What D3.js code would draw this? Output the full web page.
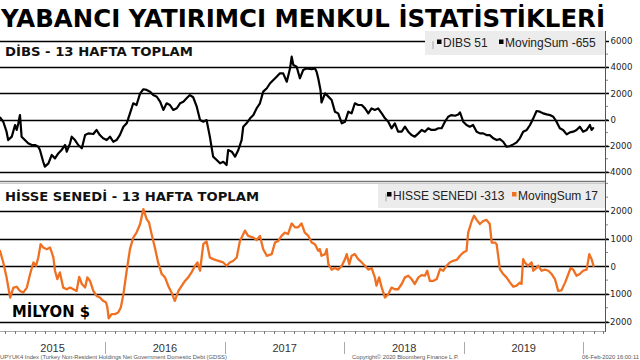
<!DOCTYPE html>
<html><head><meta charset="utf-8">
<script src="https://cdn.jsdelivr.net/npm/d3@7"></script>
<style>
html,body{margin:0;padding:0;background:#fff;}
svg{display:block;}
</style></head>
<body>
<svg id="chart" width="640" height="360"></svg>
<script>
// ---------- DATA ----------
const titleText = "YABANCI YATIRIMCI MENKUL İSTATİSTİKLERİ";
const topTitle = "DİBS - 13 HAFTA TOPLAM";
const botTitle = "HİSSE SENEDİ - 13 HAFTA TOPLAM";
const unitLabel = "MİLYON $";
const topLegend = ["DIBS 51", "MovingSum -655"];
const botLegend = ["HISSE SENEDI -313", "MovingSum 17"];
const topTicks = [-4000, -2000, 0, 2000, 4000, 6000];
const botTicks = [-2000, -1000, 0, 1000, 2000];
const years = ["2015", "2016", "2017", "2018", "2019"];
const footerLeft = "UPYUK4 Index (Turkey Non-Resident Holdings Net Government Domestic Debt (GDSS)";
const footerMid = "Copyright© 2020 Bloomberg Finance L.P.";
const footerRight = "06-Feb-2020 16:00:11";

// DIBS 13-week moving sum (black)
const dibsSeries = [
["2015-02-14",150],["2015-02-24",-170],["2015-03-06",-930],["2015-03-11",-1570],["2015-03-22",-1310],
["2015-04-01",-420],["2015-04-06",-800],["2015-04-11",-290],["2015-04-16",340],["2015-04-21",-1310],
["2015-05-01",-1570],["2015-05-11",-1820],["2015-05-22",-1950],["2015-06-01",-1950],["2015-06-11",-2080],
["2015-06-16",-2330],["2015-06-26",-3230],["2015-07-01",-3600],["2015-07-12",-3350],["2015-07-22",-2710],
["2015-08-01",-2970],["2015-08-11",-2590],["2015-08-21",-2330],["2015-09-01",-1950],["2015-09-06",-2460],
["2015-09-16",-1820],["2015-09-21",-1310],["2015-10-01",-1570],["2015-10-11",-1950],["2015-10-22",-2200],
["2015-11-01",-1190],["2015-11-11",-1060],["2015-11-26",-1110],["2015-12-06",-800],["2015-12-16",-1190],
["2015-12-26",-1440],["2016-01-06",-1570],["2016-01-16",-1310],["2016-01-26",-1700],["2016-02-05",-1570],
["2016-02-15",-1190],["2016-02-26",-550],["2016-03-07",-290],["2016-03-17",470],["2016-03-27",1240],
["2016-04-06",1110],["2016-04-17",2000],["2016-04-27",2310],["2016-05-07",2260],["2016-05-17",2130],
["2016-05-27",1870],["2016-06-07",1740],["2016-06-17",1360],["2016-06-27",730],["2016-07-07",1240],
["2016-07-17",1110],["2016-07-27",730],["2016-08-07",860],["2016-08-17",1240],["2016-08-27",1360],
["2016-09-06",1620],["2016-09-16",1870],["2016-09-26",1700],["2016-10-07",980],["2016-10-17",-40],
["2016-10-27",-170],["2016-11-06",-40],["2016-11-16",-1310],["2016-11-26",-2840],["2016-12-07",-3100],
["2016-12-17",-3350],["2016-12-27",-3230],["2017-01-06",-3480],["2017-01-11",-2330],["2017-01-22",-2460],
["2017-02-01",-2840],["2017-02-11",-2330],["2017-02-21",-1570],["2017-02-26",-550],["2017-03-08",-290],
["2017-03-19",90],["2017-03-29",340],["2017-04-08",860],["2017-04-18",1240],["2017-04-28",2130],
["2017-05-09",2390],["2017-05-19",2770],["2017-05-29",3020],["2017-06-08",3270],["2017-06-18",3530],
["2017-06-28",3530],["2017-07-09",2890],["2017-07-19",3910],["2017-07-24",4800],["2017-07-29",4170],
["2017-08-08",4040],["2017-08-18",3150],["2017-08-28",3780],["2017-09-08",3910],["2017-09-23",3840],
["2017-10-03",3910],["2017-10-08",3650],["2017-10-13",3150],["2017-10-20",2250],["2017-10-23",1300],
["2017-11-03",2000],["2017-11-13",1750],["2017-11-23",1490],["2017-12-03",600],["2017-12-13",470],
["2017-12-24",-290],["2018-01-03",-170],["2018-01-13",600],["2018-01-23",470],["2018-02-02",1240],
["2018-02-12",1110],["2018-02-23",1110],["2018-03-05",850],["2018-03-15",470],["2018-03-25",850],
["2018-04-04",730],["2018-04-14",850],["2018-04-25",470],["2018-05-05",90],["2018-05-15",-170],
["2018-05-25",-670],["2018-06-04",-290],["2018-06-14",-930],["2018-06-25",-930],["2018-07-05",-550],
["2018-07-15",-930],["2018-07-25",-1190],["2018-08-04",-1310],["2018-08-15",-1060],["2018-08-25",-800],
["2018-09-04",-930],["2018-09-14",-670],["2018-09-24",-800],["2018-10-04",-800],["2018-10-15",-670],
["2018-10-25",-670],["2018-11-04",-170],["2018-11-14",210],["2018-11-24",340],["2018-12-05",290],
["2018-12-15",390],["2018-12-20",550],["2018-12-30",-170],["2019-01-09",-420],["2019-01-19",-550],
["2019-01-29",-420],["2019-02-09",-930],["2019-02-19",-1060],["2019-03-01",-1060],["2019-03-11",-1190],
["2019-03-21",-1190],["2019-04-01",-1440],["2019-04-11",-1570],["2019-04-21",-1500],["2019-05-01",-1700],
["2019-05-11",-2080],["2019-05-22",-2030],["2019-06-01",-1900],["2019-06-11",-1750],["2019-06-21",-1440],
["2019-07-01",-930],["2019-07-12",-800],["2019-07-22",-420],["2019-08-01",90],["2019-08-11",650],
["2019-08-21",600],["2019-08-31",470],["2019-09-11",390],["2019-09-21",340],["2019-10-01",210],
["2019-10-11",-170],["2019-10-21",-670],["2019-10-31",-800],["2019-11-11",-1140],["2019-11-21",-980],
["2019-12-01",-930],["2019-12-11",-800],["2019-12-21",-550],["2019-12-31",-930],["2020-01-11",-800],
["2020-01-21",-420],["2020-01-26",-800],["2020-01-31",-655]
];

// HISSE SENEDI 13-week moving sum (orange)
const hisseSeries = [
["2015-02-14",560],["2015-02-24",140],["2015-03-06",-400],["2015-03-17",-1130],["2015-03-27",-770],
["2015-04-06",-740],["2015-04-16",-890],["2015-04-26",-950],["2015-05-07",-770],["2015-05-17",-280],
["2015-05-27",140],["2015-06-04",20],["2015-06-11",320],["2015-06-18",800],["2015-06-26",680],
["2015-07-07",620],["2015-07-17",680],["2015-07-22",500],["2015-07-27",320],["2015-08-01",-160],
["2015-08-08",-460],["2015-08-16",-220],["2015-08-26",-770],["2015-09-06",-830],["2015-09-16",-770],
["2015-09-26",-830],["2015-10-06",-890],["2015-10-14",-380],["2015-10-22",-640],["2015-11-01",-770],
["2015-11-08",-400],["2015-11-16",-530],["2015-11-26",-890],["2015-12-06",-1070],["2015-12-16",-1130],
["2015-12-26",-1250],["2016-01-04",-1310],["2016-01-08",-1490],["2016-01-12",-1880],["2016-01-21",-1730],
["2016-01-31",-1730],["2016-02-10",-1670],["2016-02-18",-1490],["2016-02-26",-1010],["2016-03-07",-160],
["2016-03-17",620],["2016-03-27",1040],["2016-04-06",1220],["2016-04-17",1530],["2016-04-27",2070],
["2016-05-07",1710],["2016-05-14",1590],["2016-05-22",1170],["2016-06-01",680],["2016-06-11",140],
["2016-06-22",-280],["2016-07-02",-400],["2016-07-12",-710],["2016-07-22",-950],["2016-08-01",-1250],
["2016-08-12",-890],["2016-08-22",-710],["2016-09-01",-530],["2016-09-11",-400],["2016-09-21",-220],
["2016-10-02",20],["2016-10-09",140],["2016-10-17",-160],["2016-10-27",800],["2016-11-06",900],
["2016-11-16",320],["2016-11-26",260],["2016-12-12",200],["2016-12-27",140],["2017-01-06",20],
["2017-01-16",140],["2017-01-27",200],["2017-02-06",320],["2017-02-16",920],["2017-03-03",1290],
["2017-03-13",1100],["2017-03-29",1040],["2017-04-08",950],["2017-04-18",1100],["2017-04-28",620],
["2017-05-09",380],["2017-05-24",440],["2017-06-03",860],["2017-06-13",920],["2017-06-23",1100],
["2017-07-03",1220],["2017-07-13",1170],["2017-07-24",1550],["2017-08-03",1410],["2017-08-13",1410],
["2017-08-23",1550],["2017-09-02",1220],["2017-09-13",1100],["2017-09-23",860],["2017-10-03",800],
["2017-10-13",560],["2017-10-18",620],["2017-10-23",380],["2017-11-03",440],["2017-11-08",620],
["2017-11-13",80],["2017-11-23",-120],["2017-12-03",-60],["2017-12-13",-120],["2017-12-24",20],
["2018-01-03",260],["2018-01-08",440],["2018-01-16",80],["2018-01-23",380],["2018-02-02",440],
["2018-02-12",260],["2018-02-23",140],["2018-03-05",20],["2018-03-15",-120],["2018-03-25",-60],
["2018-04-04",-400],["2018-04-09",-700],["2018-04-17",-400],["2018-04-25",-770],["2018-05-05",-1130],
["2018-05-15",-1010],["2018-05-25",-770],["2018-06-04",-830],["2018-06-14",-830],["2018-06-25",-640],
["2018-07-05",-400],["2018-07-15",-340],["2018-07-25",-460],["2018-08-04",-640],["2018-08-15",-400],
["2018-08-25",-320],["2018-09-04",-340],["2018-09-11",-160],["2018-09-19",-530],["2018-09-29",-530],
["2018-10-10",-460],["2018-10-20",-100],["2018-10-30",-160],["2018-11-09",20],["2018-11-19",140],
["2018-11-29",200],["2018-12-10",230],["2018-12-20",380],["2018-12-30",500],["2019-01-09",560],
["2019-01-14",1220],["2019-01-25",1640],["2019-02-01",1830],["2019-02-09",1680],["2019-02-19",1530],
["2019-03-01",1640],["2019-03-11",1680],["2019-03-21",1530],["2019-03-27",860],["2019-04-06",860],
["2019-04-11",800],["2019-04-21",-100],["2019-05-01",-280],["2019-05-11",-400],["2019-05-22",-590],
["2019-06-01",-740],["2019-06-11",-700],["2019-06-21",-590],["2019-06-26",-640],["2019-07-01",260],
["2019-07-06",140],["2019-07-16",20],["2019-07-27",140],["2019-08-01",-160],["2019-08-11",-60],
["2019-08-16",20],["2019-08-26",-160],["2019-09-05",-120],["2019-09-16",-160],["2019-09-26",-280],
["2019-10-06",-460],["2019-10-16",-890],["2019-10-26",-870],["2019-11-06",-590],["2019-11-16",-280],
["2019-11-23",-60],["2019-12-01",-120],["2019-12-11",-340],["2019-12-21",-280],["2019-12-31",-160],
["2020-01-11",-120],["2020-01-19",440],["2020-01-26",260],["2020-02-01",17]
];

// ---------- DRAW ----------
const parse = d3.utcParse("%Y-%m-%d");
const svg = d3.select("#chart");
const axisX = 605;

const x = d3.scaleUtc()
  .domain([parse("2015-02-14"), parse("2020-03-07")])
  .range([0, axisX]);
const yTop = d3.scaleLinear().domain([-4700, 6000]).range([181, 41]);
const yBot = d3.scaleLinear().domain([-2340, 3050]).range([331, 182]);

const labelFont = "DejaVu Sans, Verdana, sans-serif";

// Title
svg.append("text").attr("x", 1).attr("y", 27)
  .attr("font-family", "DejaVu Sans, Verdana, sans-serif").attr("font-weight", "bold")
  .attr("font-size", 25).attr("fill", "#000")
  .attr("textLength", 604).attr("lengthAdjust", "spacingAndGlyphs")
  .text(titleText);

// Legend boxes
function legend(y0, h, x0, items, colors, markerX, textX) {
  svg.append("rect").attr("x", x0).attr("y", y0).attr("width", axisX - x0).attr("height", h)
    .attr("fill", "#ececec");
  svg.append("line").attr("x1", x0 + 8).attr("x2", x0 + 8).attr("y1", y0 + h/2 - 2).attr("y2", y0 + h/2 + 6)
    .attr("stroke", "#aaa").attr("stroke-width", 1);
  items.forEach((t, i) => {
    svg.append("rect").attr("x", markerX[i]).attr("y", y0 + h/2 - 3.5).attr("width", 4.5).attr("height", 4.5)
      .attr("fill", colors[i]);
    svg.append("text").attr("x", textX[i]).attr("y", y0 + h/2 + 4)
      .attr("font-family", "Liberation Sans, Arial, sans-serif").attr("font-size", 12).attr("fill", "#222")
      .text(t);
  });
}

// Panel function
function panel(yScale, ticks, minorStep, series, color, width, legendFn) {
  const [d0, d1] = yScale.domain();
  // minor ticks
  const minors = d3.range(Math.ceil(d0 / minorStep) * minorStep, d1, minorStep);
  svg.append("g").selectAll("line").data(minors).join("line")
    .attr("x1", axisX).attr("x2", axisX + 3)
    .attr("y1", d => yScale(d)).attr("y2", d => yScale(d))
    .attr("stroke", "#666").attr("stroke-width", 0.8);
  // gridlines
  svg.append("g").selectAll("line").data(ticks).join("line")
    .attr("x1", 0).attr("x2", axisX + 4)
    .attr("y1", d => Math.round(yScale(d)) + 0.5).attr("y2", d => Math.round(yScale(d)) + 0.5)
    .attr("stroke", "#000").attr("stroke-width", 1.4);
  // legend box sits over the gridlines
  legendFn();
  // tick labels
  svg.append("g").selectAll("text").data(ticks).join("text")
    .attr("x", d => d < 0 ? axisX + 2 : axisX + 5.5)
    .attr("y", d => yScale(d) + 3.2)
    .attr("font-family", labelFont).attr("font-size", 8.6).attr("fill", "#222")
    .text(d => d < 0 ? "-" + Math.abs(d) : d);
  // line
  const line = d3.line().x(d => x(parse(d[0]))).y(d => yScale(d[1]));
  svg.append("path").datum(series).attr("d", line)
    .attr("fill", "none").attr("stroke", color).attr("stroke-width", width)
    .attr("stroke-linejoin", "round").attr("stroke-linecap", "round");
}

panel(yTop, topTicks, 1000, dibsSeries, "#000", 2.2,
  () => legend(31, 24, 425, topLegend, ["#000", "#000"], [437, 499], [443, 505]));
panel(yBot, botTicks, 500, hisseSeries, "#f07022", 2.3,
  () => legend(183, 25, 378, botLegend, ["#000", "#f07022"], [387, 512], [393, 518]));

// Panel separator
svg.append("line").attr("x1", 0).attr("x2", axisX).attr("y1", 181.5).attr("y2", 181.5)
  .attr("stroke", "#777").attr("stroke-width", 1.6);
svg.append("line").attr("x1", 0).attr("x2", axisX).attr("y1", 183.5).attr("y2", 183.5)
  .attr("stroke", "#ccc").attr("stroke-width", 1);

// Right axis
svg.append("line").attr("x1", axisX + 0.5).attr("x2", axisX + 0.5).attr("y1", 31).attr("y2", 332)
  .attr("stroke", "#555").attr("stroke-width", 1);

// Panel titles
svg.append("text").attr("x", 5).attr("y", 55.5)
  .attr("font-family", "DejaVu Sans, Verdana, sans-serif").attr("font-weight", "bold")
  .attr("font-size", 11.5).attr("fill", "#111")
  .attr("textLength", 188).attr("lengthAdjust", "spacingAndGlyphs").text(topTitle);
svg.append("text").attr("x", 5).attr("y", 201)
  .attr("font-family", "DejaVu Sans, Verdana, sans-serif").attr("font-weight", "bold")
  .attr("font-size", 12.5).attr("fill", "#111")
  .attr("textLength", 254).attr("lengthAdjust", "spacingAndGlyphs").text(botTitle);
svg.append("text").attr("x", 12).attr("y", 316.5)
  .attr("font-family", "DejaVu Sans, Verdana, sans-serif").attr("font-weight", "bold")
  .attr("font-size", 15).attr("fill", "#000")
  .attr("textLength", 78).attr("lengthAdjust", "spacingAndGlyphs").text(unitLabel);

// Bottom time axis
svg.append("line").attr("x1", 0).attr("x2", axisX).attr("y1", 331.5).attr("y2", 331.5)
  .attr("stroke", "#aaa").attr("stroke-width", 1);
const months = d3.utcMonth.range(x.domain()[0], x.domain()[1]);
svg.append("g").selectAll("line").data(months).join("line")
  .attr("x1", d => Math.round(x(d)) + 0.5).attr("x2", d => Math.round(x(d)) + 0.5)
  .attr("y1", 331).attr("y2", 334)
  .attr("stroke", "#777").attr("stroke-width", 1);
const yearStarts = years.slice(1).concat(["2020"]).map(y => parse(y + "-01-01"));
svg.append("g").selectAll("line").data(yearStarts).join("line")
  .attr("x1", d => Math.round(x(d)) + 0.5).attr("x2", d => Math.round(x(d)) + 0.5)
  .attr("y1", 342).attr("y2", 354)
  .attr("stroke", "#aaa").attr("stroke-width", 1);
svg.append("g").selectAll("text").data(years).join("text")
  .attr("x", d => {
    const a = Math.max(0, x(parse(d + "-01-01")));
    const b = x(parse((+d + 1) + "-01-01"));
    return (a + b) / 2;
  })
  .attr("y", 352)
  .attr("text-anchor", "middle")
  .attr("font-family", "Liberation Sans, Arial, sans-serif").attr("font-size", 11).attr("fill", "#333")
  .text(d => d);

// Footer
const footStyle = s => s.attr("font-family", "Liberation Sans, Arial, sans-serif").attr("font-size", 5.8).attr("fill", "#555");
svg.append("text").attr("x", 0).attr("y", 359).call(footStyle).text(footerLeft);
svg.append("text").attr("x", 352).attr("y", 359).call(footStyle).text(footerMid);
svg.append("text").attr("x", 582).attr("y", 359).call(footStyle).text(footerRight);
</script>
</body></html>
